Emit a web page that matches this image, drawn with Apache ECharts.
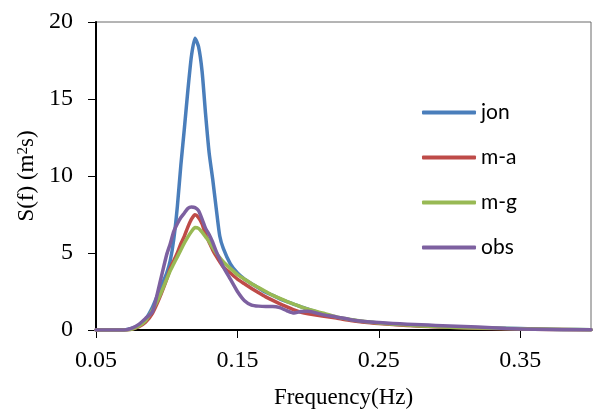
<!DOCTYPE html>
<html>
<head>
<meta charset="utf-8">
<script src="https://cdn.jsdelivr.net/npm/echarts@6/dist/echarts.min.js"></script>
<style>html,body{margin:0;padding:0;background:#fff}#c{width:594px;height:414px}</style>
</head>
<body>
<div id="c"></div>
<script>
const freq = [0.05,0.06,0.07,0.075,0.08,0.085,0.09,0.095,0.1,0.1025,0.105,0.1075,0.11,0.1125,0.115,0.1175,0.12,0.1225,0.125,0.1275,0.13,0.1325,0.135,0.1375,0.14,0.145,0.15,0.155,0.16,0.165,0.17,0.175,0.18,0.185,0.19,0.195,0.2,0.21,0.22,0.23,0.24,0.25,0.26,0.27,0.28,0.29,0.3,0.32,0.34,0.36,0.38,0.4];
const jon = [0,0,0,0.1,0.3,0.7,1.5,2.6,3.7,4.5,5.9,8.0,10.7,13.1,15.6,17.8,18.95,18.4,16.8,14.0,11.5,9.8,7.9,6.1,5.3,4.3,3.7,3.3,3.0,2.72,2.45,2.25,2.02,1.84,1.67,1.5,1.35,1.05,0.82,0.66,0.53,0.45,0.38,0.32,0.27,0.23,0.2,0.15,0.11,0.07,0.04,0.02];
const ma = [0,0,0,0.05,0.2,0.5,1.1,2.1,3.3,4.0,4.5,5.0,5.6,6.1,6.7,7.2,7.48,7.3,6.9,6.2,5.7,5.2,4.8,4.43,4.1,3.7,3.3,3.0,2.7,2.42,2.15,1.92,1.7,1.5,1.3,1.15,1.05,0.9,0.77,0.62,0.5,0.42,0.36,0.3,0.25,0.21,0.18,0.12,0.08,0.05,0.03,0.01];
const mg = [0,0,0,0.05,0.25,0.6,1.3,2.2,3.3,3.85,4.3,4.75,5.2,5.65,6.05,6.4,6.65,6.6,6.35,6.05,5.75,5.35,5.0,4.7,4.43,4.0,3.6,3.3,3.0,2.75,2.5,2.25,2.05,1.85,1.68,1.5,1.35,1.1,0.85,0.68,0.55,0.45,0.38,0.32,0.26,0.22,0.18,0.13,0.09,0.06,0.03,0.02];
const obs = [0,0,0,0.1,0.35,0.75,1.2,3.0,4.9,5.6,6.4,6.9,7.3,7.6,7.9,7.98,7.95,7.75,7.2,6.6,6.2,5.7,5.1,4.6,4.1,3.3,2.5,1.9,1.62,1.55,1.53,1.53,1.45,1.25,1.1,1.2,1.22,1.0,0.85,0.67,0.55,0.48,0.43,0.38,0.34,0.3,0.26,0.2,0.1,0.05,0.02,0.01];
const seriesNames = ['jon','m-a','m-g','obs'];
const seriesValues = [jon, ma, mg, obs];
const colors = ['#4A7EBB','#BE4B48','#98B954','#7D60A0'];
const xTicks = [0.05,0.15,0.25,0.35];

const chart = echarts.init(document.getElementById('c'));
const serif = '"Liberation Serif","Times New Roman",serif';
chart.setOption({
  animation: false,
  grid: {left: 96, right: 3, top: 22, bottom: 82, show: true, borderColor: '#6a6a6a', borderWidth: 1},
  legend: {
    orient: 'vertical', left: 417, top: 97, itemWidth: 54, itemHeight: 4, itemGap: 24,
    icon: 'roundRect',
    textStyle: {fontFamily: 'Lato, "Open Sans", sans-serif', fontSize: 21, color: '#000'},
    data: seriesNames
  },
  xAxis: {
    type: 'value', min: 0.05, max: 0.4, interval: 0.05,
    name: 'Frequency(Hz)', nameLocation: 'middle', nameGap: 56,
    nameTextStyle: {fontFamily: serif, fontSize: 23, color: '#000'},
    axisLine: {onZero: false, lineStyle: {color: '#000', width: 2}},
    axisTick: {show: true, length: 8, lineStyle: {color: '#000'}, customValues: xTicks},
    axisLabel: {fontFamily: serif, fontSize: 24, color: '#000', margin: 19, customValues: xTicks,
      formatter: v => v.toFixed(2)},
    splitLine: {show: false}
  },
  yAxis: {
    type: 'value', min: 0, max: 20, interval: 5,
    name: 'S(f) (m{sup|2}s)', nameLocation: 'middle', nameGap: 57,
    nameTextStyle: {fontFamily: serif, fontSize: 23, color: '#000',
      rich: {sup: {fontFamily: serif, fontSize: 15, color: '#000', verticalAlign: 'top', padding: [0, 0, 8, 0]}}},
    axisLine: {show: true, lineStyle: {color: '#000', width: 2}},
    axisTick: {show: true, length: 8, lineStyle: {color: '#000'}},
    axisLabel: {fontFamily: serif, fontSize: 24, color: '#000', margin: 23},
    splitLine: {show: false}
  },
  series: seriesNames.map((n, k) => ({
    name: n, type: 'line', showSymbol: false, symbol: 'none', smooth: 0.2,
    lineStyle: {width: 3.5, color: colors[k], cap: 'round', join: 'round'},
    itemStyle: {color: colors[k]},
    data: freq.map((f, i) => [f, seriesValues[k][i]])
  }))
});
</script>
</body>
</html>
